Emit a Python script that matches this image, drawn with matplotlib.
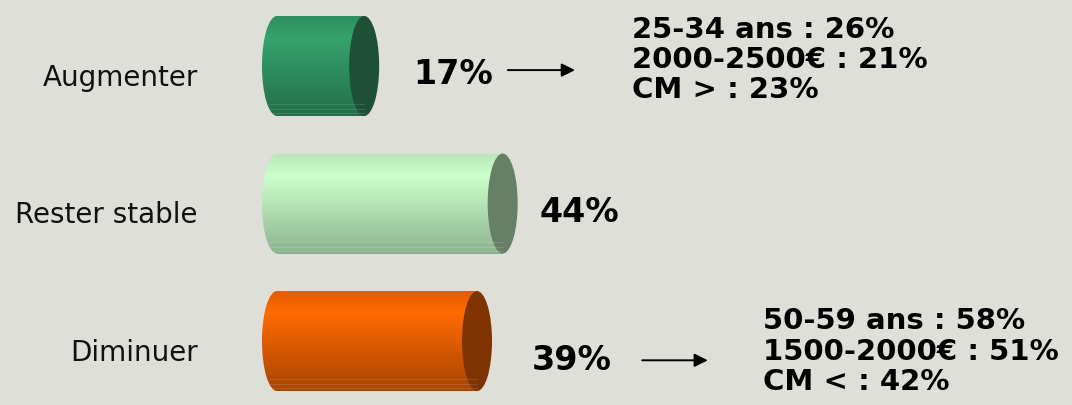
import numpy as np
import matplotlib as mpl
mpl.use("Agg")
import matplotlib.pyplot as plt
from matplotlib.patches import Ellipse, Rectangle
from matplotlib.colors import LinearSegmentedColormap

# data
categories = ['Augmenter', 'Rester stable', 'Diminuer']
values = [17, 44, 39]
value_labels = ['17%', '44%', '39%']
detail_up = ['25-34 ans : 26%', '2000-2500€ : 21%', 'CM > : 23%']
detail_down = ['50-59 ans : 58%', '1500-2000€ : 51%', 'CM < : 42%']

# colors: (top, highlight, bottom) for body, then cap
body_colors = [('#2E8F5E', '#36A36C', '#236E48'),
               ('#B9E6B9', '#CCFFCC', '#8DB38D'),
               ('#E65C00', '#FF6A00', '#A84400')]
cap_colors = ['#1E4F37', '#668066', '#7F3300']
bg = '#DFDFDA'

fig = plt.figure(figsize=(10.72, 4.06), dpi=100)
fig.patch.set_facecolor(bg)
ax = fig.add_axes([0, 0, 1, 1])
ax.set_facecolor(bg)
ax.set_xlim(-54.0, 155.0)
ax.set_ylim(2.465, -0.487)
ax.axis('off')

bar_h = 0.727
cap_w = 5.85

for i, (v, c_body, c_cap) in enumerate(zip(values, body_colors, cap_colors)):
    y0, y1 = i - bar_h / 2, i + bar_h / 2
    cmap = LinearSegmentedColormap.from_list('b%d' % i,
        [(0, c_body[0]), (0.22, c_body[1]), (1, c_body[2])])
    grad = np.linspace(0, 1, 256).reshape(-1, 1)
    # body rectangle + left rounded end, both clipped gradients
    rect = Rectangle((0, y0), v, bar_h, facecolor='none', edgecolor='none')
    left = Ellipse((0, i), cap_w, bar_h, facecolor='none', edgecolor='none')
    for clip in (rect, left):
        ax.add_patch(clip)
        im = ax.imshow(grad, cmap=cmap, aspect='auto', origin='upper',
                       extent=(-cap_w, v, y1, y0), interpolation='bilinear')
        im.set_clip_path(clip)
    # thin stripes near the bottom, like the original rendering
    for f in (0.88, 0.93, 0.97):
        ax.plot([-cap_w * 0.25, v], [y0 + f * bar_h] * 2, color='white',
                alpha=0.12, lw=0.8)
    ax.add_patch(Ellipse((v, i), cap_w, bar_h, facecolor=c_cap,
                         edgecolor='none'))

# category labels
for i, name in enumerate(categories):
    ax.text(-15.4, i + 0.135, name, ha='right', va='baseline',
            fontsize=20, color='#111111', family='DejaVu Sans')

# value labels
label_dx = [9.5, 7.1, 10.7]
label_dy = [0.124, 0.124, 0.204]
for i, (v, lab) in enumerate(zip(values, value_labels)):
    ax.text(v + label_dx[i], i + label_dy[i], lab, ha='left', va='baseline',
            fontsize=24, fontweight='bold', color='black')

# arrows
arrow_kw = dict(arrowstyle='-|>', color='black', lw=1.4,
                mutation_scale=20, shrinkA=0, shrinkB=0)
ax.annotate('', xy=(58.1, 0.03), xytext=(45.0, 0.03), arrowprops=arrow_kw)
ax.annotate('', xy=(84.0, 2.14), xytext=(71.2, 2.14), arrowprops=arrow_kw)

# detail blocks
ax.text(69.2, -0.05, '\n'.join(detail_up), ha='left', va='center',
        fontsize=21, fontweight='bold', color='black', linespacing=1.1)
ax.text(94.7, 2.07, '\n'.join(detail_down), ha='left', va='center',
        fontsize=21, fontweight='bold', color='black', linespacing=1.12)

fig.savefig('out.png', dpi=100, facecolor=bg)
